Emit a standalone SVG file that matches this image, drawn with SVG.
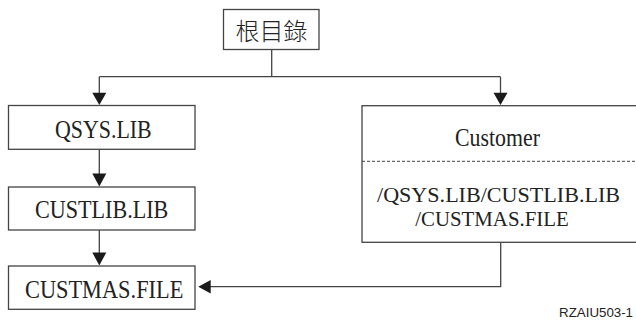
<svg xmlns="http://www.w3.org/2000/svg" width="636" height="321" viewBox="0 0 636 321">
<style>
.box{fill:#fff;stroke:#444;stroke-width:1.3}
.ln{fill:none;stroke:#444;stroke-width:1.3}
.ah{fill:#1a1a1a}
</style>
<rect width="636" height="321" fill="#fff"/>
<g id="connectors">
<path class="ln" d="M271.7 49.3V76.7M99.3 76.7H500.5M99.3 76.7V93M500.5 76.7V93"/>
<polygon class="ah" points="92.3,92.7 106.3,92.7 99.3,105"/>
<polygon class="ah" points="493.5,92.7 507.5,92.7 500.5,105"/>
<path class="ln" d="M99.3 149.3V174"/>
<polygon class="ah" points="92.3,173.5 106.3,173.5 99.3,186.5"/>
<path class="ln" d="M99.3 230V253"/>
<polygon class="ah" points="92.3,252.5 106.3,252.5 99.3,265.5"/>
<path class="ln" d="M500.7 242.3V286.7H210"/>
<polygon class="ah" points="210.7,280 210.7,293.4 198.3,286.7"/>
</g>
<g id="root">
<rect class="box" x="223.5" y="9.5" width="95.5" height="40"/>
<text x="271.5" y="29.5" text-anchor="middle" dominant-baseline="central" font-family="Noto Sans CJK TC, Noto Sans CJK SC, sans-serif" font-size="24" font-weight="300" fill="#222">根目錄</text>
</g>
<g font-family="Liberation Serif" font-size="25" fill="#222">
<g id="qsys">
<rect class="box" x="8.5" y="105.5" width="186.5" height="43.8"/>
<text x="55" y="138.3" textLength="96.7" lengthAdjust="spacingAndGlyphs">QSYS.LIB</text>
</g>
<g id="custlib">
<rect class="box" x="8.5" y="187" width="186.5" height="43"/>
<text x="35" y="218.3" textLength="133.3" lengthAdjust="spacingAndGlyphs">CUSTLIB.LIB</text>
</g>
<g id="custmas">
<rect class="box" x="8.5" y="266" width="186.5" height="43.3"/>
<text x="25" y="298.3" textLength="158.3" lengthAdjust="spacingAndGlyphs">CUSTMAS.FILE</text>
</g>
<g id="customer">
<rect class="box" x="362" y="105.7" width="290" height="136.6"/>
<line x1="362" y1="161.3" x2="636" y2="161.3" stroke="#444" stroke-width="1" stroke-dasharray="3 2"/>
<text x="455" y="146" textLength="85" lengthAdjust="spacingAndGlyphs">Customer</text>
<text x="377" y="201.5" font-size="22" textLength="243" lengthAdjust="spacingAndGlyphs">/QSYS.LIB/CUSTLIB.LIB</text>
<text x="415.3" y="225.7" font-size="22" textLength="153.4" lengthAdjust="spacingAndGlyphs">/CUSTMAS.FILE</text>
</g>
</g>
<text x="633" y="317.3" text-anchor="end" font-family="Liberation Sans, Arial, sans-serif" font-size="13.3" fill="#222">RZAIU503-1</text>
</svg>
